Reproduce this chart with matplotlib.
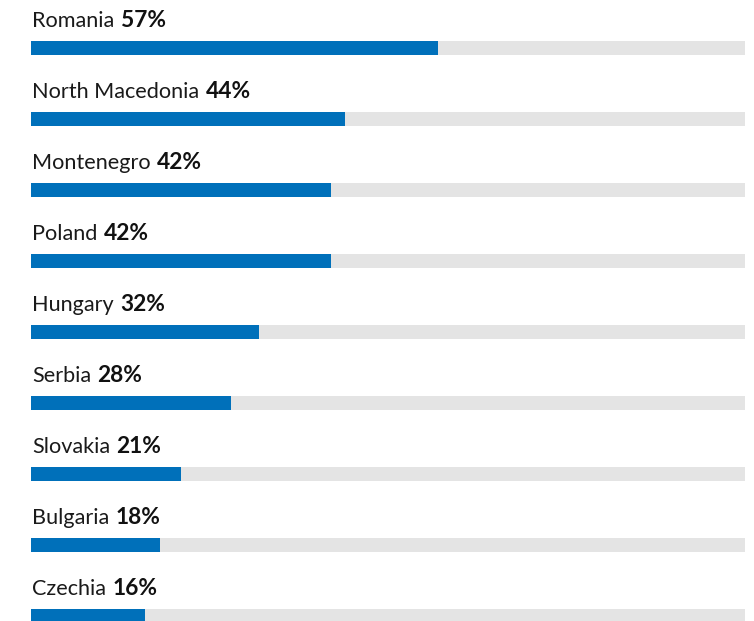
import matplotlib
matplotlib.use("Agg")
import matplotlib.pyplot as plt
from matplotlib.patches import Rectangle

countries = ["Romania", "North Macedonia", "Montenegro", "Poland", "Hungary",
             "Serbia", "Slovakia", "Bulgaria", "Czechia"]
values = [57, 44, 42, 42, 32, 28, 21, 18, 16]

W, H = 754, 621
fig = plt.figure(figsize=(W / 100, H / 100), dpi=100)
ax = fig.add_axes([0, 0, 1, 1])
ax.set_xlim(0, W)
ax.set_ylim(H, 0)
ax.axis("off")

x0, full = 31, 714
top0, step, bh = 41, 71, 14
blue = "#0070ba"
grey = "#e4e4e4"
txt = "#1a1a1a"
fs = 15.6

for i, (c, v) in enumerate(zip(countries, values)):
    top = top0 + i * step
    ax.add_patch(Rectangle((x0, top), full, bh, color=grey, lw=0))
    ax.add_patch(Rectangle((x0, top), full * v / 100, bh, color=blue, lw=0))
    t = ax.text(x0 + 1, top - 14, c, fontsize=fs, family="Lato", color=txt,
                va="baseline", ha="left")
    ax.annotate(f"{v}%", xy=(1, 0), xycoords=t, xytext=(4.5, 0),
                textcoords="offset points", fontsize=fs + 0.8, family="Lato",
                fontweight="bold", color="#111111", va="bottom", ha="left")

fig.savefig("out.png", dpi=100)
